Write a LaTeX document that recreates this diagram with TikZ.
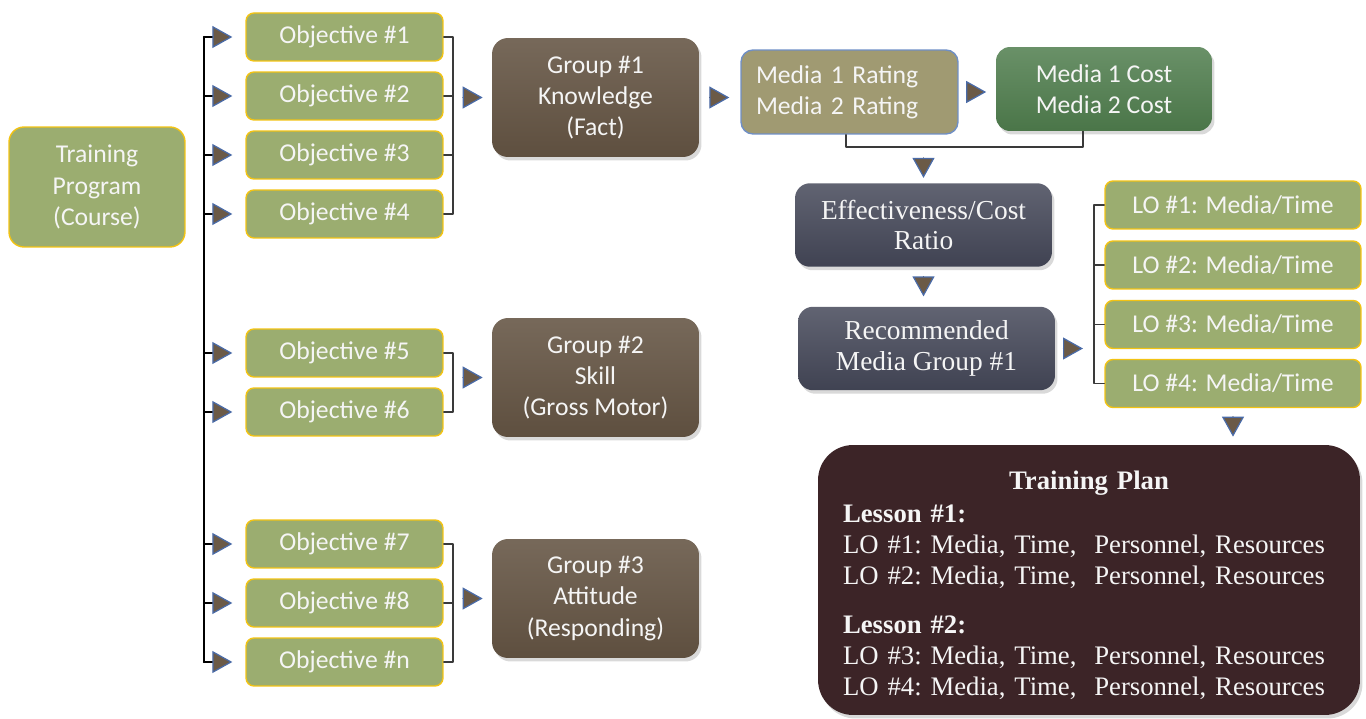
\documentclass[tikz,border=0pt]{standalone}
\usepackage{fontspec}
\setmainfont{Carlito}
\newfontfamily\plainserif{Liberation Serif}
\usepackage{xcolor}
\usepackage{tikz}
\usetikzlibrary{positioning,calc,arrows.meta,shadows}

\definecolor{objGreen}{HTML}{9BAD70}
\definecolor{objEdge}{HTML}{F2C314}
\definecolor{grpBrown}{HTML}{645443}
\definecolor{rateTan}{HTML}{A09A72}
\definecolor{rateEdge}{HTML}{6F8FC6}
\definecolor{costGreen}{HTML}{4F7D4D}
\definecolor{slateBox}{HTML}{454859}
\definecolor{planRed}{HTML}{3C2427}
\definecolor{tipFill}{HTML}{6B5A47}
\definecolor{tipEdge}{HTML}{4A6BA8}
\definecolor{lineGray}{HTML}{3A3A3A}

\newcommand\planfont{\plainserif\fontsize{15.2}{17.6}\selectfont\frenchspacing\hyphenpenalty=10000\relax}

\begin{document}
\begin{tikzpicture}[
	x=0.02cm,y=-0.02cm,
	line cap=round,line join=round,
	font=\fontsize{14.6}{17.8}\selectfont,
	boxtext/.style={text=white!96!black, align=center, inner sep=0pt},
	objbox/.style={boxtext, draw=objEdge, line width=0.8pt, fill=objGreen,
		rounded corners=0.16cm, minimum width=3.94cm, minimum height=0.96cm},
	grpbox/.style={boxtext, top color=grpBrown!88!white, middle color=grpBrown,
		bottom color=grpBrown!94!black, rounded corners=0.32cm,
		minimum width=4.14cm, minimum height=2.38cm,
		drop shadow={shadow xshift=0.05cm, shadow yshift=-0.07cm, opacity=0.3}},
	slatebox/.style={boxtext, top color=slateBox!85!white, middle color=slateBox,
		bottom color=slateBox!92!black, rounded corners=0.3cm,
		minimum width=5.14cm, minimum height=1.67cm,
		font=\plainserif\fontsize{15.6}{17.6}\selectfont,
		drop shadow={shadow xshift=0.05cm, shadow yshift=-0.07cm, opacity=0.3}},
	trunk/.style={draw=black, line width=1.3pt},
	brk/.style={draw=lineGray, line width=0.6pt},
	fwd/.style={-{Triangle[length=0.4cm,width=0.44cm,fill=tipFill,color=tipEdge,line width=0.7pt]}}
	]
	\useasboundingbox (0,0) rectangle (1366,719);
	
	%----- course box
	\node[objbox, rounded corners=0.3cm, minimum width=3.52cm, minimum height=2.4cm]
	(prog) at (97,187) {Training\\Program\\(Course)};
	
	%----- objectives (n = 9th)
	\foreach \n/\y/\lbl in {1/37/1,2/96/2,3/155/3,4/214/4,5/353/5,6/412/6,7/544/7,8/603/8,9/662/n}{
		\node[objbox] (o\n) at (344.5,\y) {Objective \#\lbl};
	}
	
	%----- trunk on the left + ticks
	\coordinate (trk) at (204,0);
	\draw[trunk] (o1.west -| trk) -- (o9.west -| trk);
	\foreach \n in {1,...,9}{
		\draw[trunk, fwd, shorten >=0.26cm] (o\n.west -| trk) -- (o\n.west);
	}
	
	%----- groups
	\node[grpbox] (g1) at (595.5,97.5)  {Group \#1\\Knowledge\\(Fact)};
	\node[grpbox] (g2) at (595.5,377.5) {Group \#2\\Skill\\(Gross Motor)};
	\node[grpbox] (g3) at (595.5,598.5) {Group \#3\\Attitude\\(Responding)};
	
	%----- brackets objectives -> groups
	\coordinate (bk) at (453,0);
	\draw[brk] (o1.east) -- (o1.east -| bk) -- (o4.east -| bk) -- (o4.east);
	\foreach \n in {2,3} \draw[brk] (o\n.east) -- (o\n.east -| bk);
	\draw[brk] (o5.east) -- (o5.east -| bk) -- (o6.east -| bk) -- (o6.east);
	\draw[brk] (o7.east) -- (o7.east -| bk) -- (o9.east -| bk) -- (o9.east);
	\draw[brk] (o8.east) -- (o8.east -| bk);
	\foreach \g in {1,2,3}{
		\draw[brk, fwd, shorten <=0.2cm, shorten >=0.18cm] (g\g.west -| bk) -- (g\g.west);
	}
	
	%----- media rating / cost
	\node[boxtext, draw=rateEdge, line width=0.8pt, fill=rateTan, rounded corners=0.24cm,
	minimum width=4.34cm, minimum height=1.68cm, text width=3.74cm, align=left]
	(rate) at (849.5,92) {Media 1 Rating\\Media 2 Rating};
	\node[boxtext, top color=costGreen!85!white, middle color=costGreen,
	bottom color=costGreen!94!black, rounded corners=0.28cm,
	minimum width=4.32cm, minimum height=1.68cm,
	drop shadow={shadow xshift=0.05cm, shadow yshift=-0.07cm, opacity=0.3}]
	(cost) at (1104,89) {Media 1 Cost\\Media 2 Cost};
	
	\draw[brk, fwd, shorten <=0.22cm, shorten >=0.22cm] (g1.east) -- (g1.east -| rate.west);
	\draw[brk, fwd, shorten <=0.18cm, shorten >=0.19cm] (rate.east) -- (rate.east -| cost.west);
	
	% bracket under rating + cost
	\coordinate (mbL) at (846,147);
	\coordinate (mbR) at (1083,147);
	\draw[brk] (mbL |- rate.south) -- (mbL) -- (mbR) -- (mbR |- cost.south);
	
	%----- ratio and recommendation
	\node[slatebox] (ratio) at (923.5,225) {Effectiveness/Cost\\Ratio};
	\node[slatebox] (rec) at (926.5,348.5) {Recommended\\Media Group \#1};
	
	\draw[brk, fwd, shorten <=0.22cm, shorten >=0.1cm] (ratio.north |- mbL) -- (ratio.north);
	\draw[brk, fwd, shorten <=0.2cm, shorten >=0.2cm] (ratio.south) -- (ratio.south |- rec.north);
	
	%----- learning objectives
	\foreach \n/\y in {1/205,2/265,3/324.5,4/383.5}{
		\node[objbox, minimum width=5.12cm] (lo\n) at (1233,\y) {LO \#\n: Media/Time};
	}
	\coordinate (lob) at (1094,0);
	\draw[brk] (lo1.west) -- (lo1.west -| lob) -- (lo4.west -| lob) -- (lo4.west);
	\foreach \n in {2,3} \draw[brk] (lo\n.west) -- (lo\n.west -| lob);
	\draw[brk, fwd, shorten <=0.16cm, shorten >=0.22cm] (rec.east) -- (rec.east -| lob);
	
	%----- training plan (box, then its text)
	\node[fill=planRed, rounded corners=0.7cm, minimum width=10.84cm, minimum height=5.4cm,
	drop shadow={shadow xshift=0.05cm, shadow yshift=-0.07cm, opacity=0.3}]
	(plan) at (1089,580) {};
	\node[boxtext, text width=9.84cm, align=left, font=\planfont]
	(planText) at (1089,585.5) {\makebox[\hsize][c]{\bfseries Training Plan}\\[0.04cm]
		\textbf{Lesson \#1:}\\
		LO \#1: Media, Time,~ Personnel, Resources\\
		LO \#2: Media, Time,~ Personnel, Resources\\[0.36cm]
		\textbf{Lesson \#2:}\\
		LO \#3: Media, Time,~ Personnel, Resources\\
		LO \#4: Media, Time,~ Personnel, Resources};
	
	\draw[brk, fwd, shorten <=0.18cm, shorten >=0.16cm] (lo4.south) -- (lo4.south |- plan.north);
	
\end{tikzpicture}
\end{document}
